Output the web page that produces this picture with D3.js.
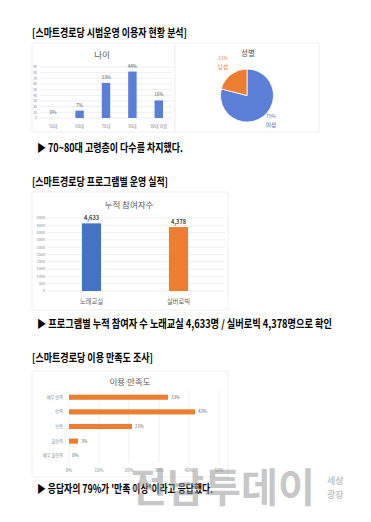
<!DOCTYPE html>
<html>
<head>
<meta charset="utf-8">
<script src="https://cdn.jsdelivr.net/npm/d3@7"></script>
<style>
  body { margin: 0; background: #fff; }
  svg { display: block; font-family: "Noto Sans CJK KR", "Noto Sans", sans-serif; }
</style>
</head>
<body>
<svg id="page" width="371" height="522"></svg>
<script>
// age chart
const ageCats = ["50대", "60대", "70대", "80대", "90대 이상"]
const ageCounts = [0, 13, 62, 82, 31]
const agePct = ["0%", "7%", "33%", "44%", "16%"]
const ageTicks = [0, 10, 20, 30, 40, 50, 60, 70, 80, 90]

// gender pie
const genderCats = ["여성", "남성"]
const genderPct = [79, 21]

// program chart
const progCats = ["노래교실", "실버로빅"]
const progVals = [4633, 4378]
const progTicks = [0, 500, 1000, 1500, 2000, 2500, 3000, 3500, 4000, 4500, 5000]

// satisfaction chart
const satCats = ["매우 만족", "만족", "보통", "불만족", "매우 불만족"]
const satVals = [33, 42, 21, 3, 0]
const satTicks = [0, 10, 20, 30, 40, 50]

const blue = "#5b7fd6"
const blueDark = "#4472c4"
const orange = "#ed7d31"
const grid = "#e3e3e3"
const lab = "#8a8a8a"

const svg = d3.select("#page")
svg.append("rect").attr("width", 371).attr("height", 522).attr("fill", "#fff")

// headings and summary lines
function line(txt, x, y, w, size) {
    svg.append("text")
        .attr("x", x).attr("y", y)
        .attr("font-size", size).attr("font-weight", 700).attr("fill", "#000")
        .attr("textLength", w).attr("lengthAdjust", "spacingAndGlyphs")
        .text(txt)
}
line("[스마트경로당 시범운영 이용자 현황 분석]", 32, 36.5, 155, 11)
line("▶ 70~80대 고령층이 다수를 차지했다.", 37, 151.5, 146, 11)
line("[스마트경로당 프로그램별 운영 실적]", 32, 185.5, 136, 11)
line("▶ 프로그램별 누적 참여자 수 노래교실 4,633명 / 실버로빅 4,378명으로 확인", 37, 327.5, 295, 11)
line("[스마트경로당 이용 만족도 조사]", 32, 361.5, 121, 11)
line("▶ 응답자의 79%가 '만족 이상'이라고 응답했다.", 37, 492.5, 176, 11)

// panels
function panel(x, y, w, h) {
    svg.append("rect").attr("x", x).attr("y", y).attr("width", w).attr("height", h)
        .attr("fill", "#fff").attr("stroke", "#ececec").attr("stroke-width", 0.8)
}
panel(32, 43, 143, 89)
panel(175, 43, 144, 89)
panel(32, 192, 196, 118)
panel(32, 371, 196, 106)

function title(txt, x, y, size) {
    svg.append("text").attr("x", x).attr("y", y).attr("text-anchor", "middle")
        .attr("font-size", size).attr("fill", "#595959").text(txt)
}

// ---- age chart
title("나이", 102, 58, 8.5)
const ax = d3.scaleBand().domain(ageCats).range([40, 172]).paddingInner(0.68).paddingOuter(0.34)
const ay = d3.scaleLinear().domain([0, 90]).range([118, 67])
const ag = svg.append("g")
ag.selectAll(".g").data(ageTicks).enter().append("line")
    .attr("x1", 40).attr("x2", 172).attr("y1", d => ay(d)).attr("y2", d => ay(d))
    .attr("stroke", grid).attr("stroke-width", 0.6)
ag.selectAll(".t").data(ageTicks).enter().append("text")
    .attr("x", 37).attr("y", d => ay(d) + 1.2).attr("text-anchor", "end")
    .attr("font-size", 3.4).attr("fill", lab).text(d => d)
ag.selectAll(".b").data(ageCats).enter().append("rect")
    .attr("x", d => ax(d)).attr("width", ax.bandwidth())
    .attr("y", (d, i) => ay(ageCounts[i])).attr("height", (d, i) => ay(0) - ay(ageCounts[i]))
    .attr("fill", blue)
ag.selectAll(".v").data(ageCats).enter().append("text")
    .attr("x", d => ax(d) + ax.bandwidth() / 2).attr("y", (d, i) => ay(ageCounts[i]) - 4)
    .attr("text-anchor", "middle").attr("font-size", 4.6).attr("fill", "#555")
    .text((d, i) => agePct[i])
ag.selectAll(".c").data(ageCats).enter().append("text")
    .attr("x", d => ax(d) + ax.bandwidth() / 2).attr("y", 127.5)
    .attr("text-anchor", "middle").attr("font-size", 4.2).attr("fill", lab).text(d => d)

// ---- gender pie
title("성별", 248, 56, 7.5)
const pie = d3.pie().sort(null).value(d => d)
const arc = d3.arc().innerRadius(0).outerRadius(26.5)
const pg = svg.append("g").attr("transform", "translate(247,95.5)")
pg.selectAll("path").data(pie(genderPct)).enter().append("path")
    .attr("d", arc).attr("fill", (d, i) => i === 0 ? blue : orange)
    .attr("stroke", "#fff").attr("stroke-width", 0.8)
const pieLab = [[24, 22], [-24, -36]]
genderCats.forEach((c, i) => {
    const col = i === 0 ? "#4f6fb8" : orange
    svg.append("text").attr("x", 247 + pieLab[i][0]).attr("y", 95.5 + pieLab[i][1])
        .attr("text-anchor", "middle").attr("font-size", 4.6).attr("fill", col).text(genderPct[i] + "%")
    svg.append("text").attr("x", 247 + pieLab[i][0]).attr("y", 95.5 + pieLab[i][1] + 9)
        .attr("text-anchor", "middle").attr("font-size", 5.6).attr("fill", col).text(c)
})

// ---- program chart
title("누적 참여자수", 129, 208, 8.5)
const px = d3.scaleBand().domain(progCats).range([48, 222]).paddingInner(0.78).paddingOuter(0.39)
const py = d3.scaleLinear().domain([0, 5000]).range([291, 218])
const prg = svg.append("g")
prg.selectAll(".g").data(progTicks).enter().append("line")
    .attr("x1", 47).attr("x2", 225).attr("y1", d => py(d)).attr("y2", d => py(d))
    .attr("stroke", grid).attr("stroke-width", 0.6)
prg.selectAll(".t").data(progTicks).enter().append("text")
    .attr("x", 45).attr("y", d => py(d) + 1.3).attr("text-anchor", "end")
    .attr("font-size", 3.8).attr("fill", lab).text(d => d)
prg.selectAll(".b").data(progCats).enter().append("rect")
    .attr("x", d => px(d)).attr("width", px.bandwidth())
    .attr("y", (d, i) => py(progVals[i])).attr("height", (d, i) => py(0) - py(progVals[i]))
    .attr("fill", (d, i) => i === 0 ? blueDark : orange)
prg.selectAll(".v").data(progCats).enter().append("text")
    .attr("x", d => px(d) + px.bandwidth() / 2).attr("y", (d, i) => py(progVals[i]) - 3.5)
    .attr("text-anchor", "middle").attr("font-size", 5.6).attr("font-weight", 700).attr("fill", "#404040")
    .text((d, i) => d3.format(",")(progVals[i]))
prg.selectAll(".c").data(progCats).enter().append("text")
    .attr("x", d => px(d) + px.bandwidth() / 2).attr("y", 304)
    .attr("text-anchor", "middle").attr("font-size", 6.4).attr("fill", "#666").text(d => d)

// ---- satisfaction chart
title("이용 만족도", 130, 385, 8.5)
const sx = d3.scaleLinear().domain([0, 50]).range([69, 219])
const sy = d3.scaleBand().domain(satCats).range([390, 463]).paddingInner(0.65).paddingOuter(0.32)
const sg = svg.append("g")
sg.selectAll(".g").data(satTicks).enter().append("line")
    .attr("x1", d => sx(d)).attr("x2", d => sx(d)).attr("y1", 390).attr("y2", 463)
    .attr("stroke", grid).attr("stroke-width", 0.6)
sg.selectAll(".t").data(satTicks).enter().append("text")
    .attr("x", d => sx(d)).attr("y", 471.5).attr("text-anchor", "middle")
    .attr("font-size", 4.4).attr("fill", lab).text(d => d + "%")
sg.selectAll(".b").data(satCats).enter().append("rect")
    .attr("x", sx(0)).attr("y", d => sy(d)).attr("height", sy.bandwidth())
    .attr("width", (d, i) => sx(satVals[i]) - sx(0)).attr("fill", orange)
sg.selectAll(".v").data(satCats).enter().append("text")
    .attr("x", (d, i) => sx(satVals[i]) + 3).attr("y", d => sy(d) + sy.bandwidth() / 2 + 1.6)
    .attr("font-size", 4.4).attr("fill", "#666").text((d, i) => satVals[i] + "%")
sg.selectAll(".c").data(satCats).enter().append("text")
    .attr("x", 63).attr("y", d => sy(d) + sy.bandwidth() / 2 + 1.5).attr("text-anchor", "end")
    .attr("font-size", 4.2).attr("fill", lab).text(d => d)

// watermark (sits over the axis labels, as in the source image)
const wm = svg.append("g").attr("opacity", 0.55)
wm.append("text").attr("x", 130).attr("y", 502).attr("font-size", 40).attr("font-weight", 700)
    .attr("fill", "#9a9a9a").attr("textLength", 185).attr("lengthAdjust", "spacingAndGlyphs").text("전남투데이")
wm.append("text").attr("x", 327).attr("y", 484).attr("font-size", 9).attr("font-weight", 700)
    .attr("fill", "#9a9a9a").text("세상")
wm.append("text").attr("x", 327).attr("y", 498).attr("font-size", 9).attr("font-weight", 700)
    .attr("fill", "#9a9a9a").text("광장")
</script>
</body>
</html>
